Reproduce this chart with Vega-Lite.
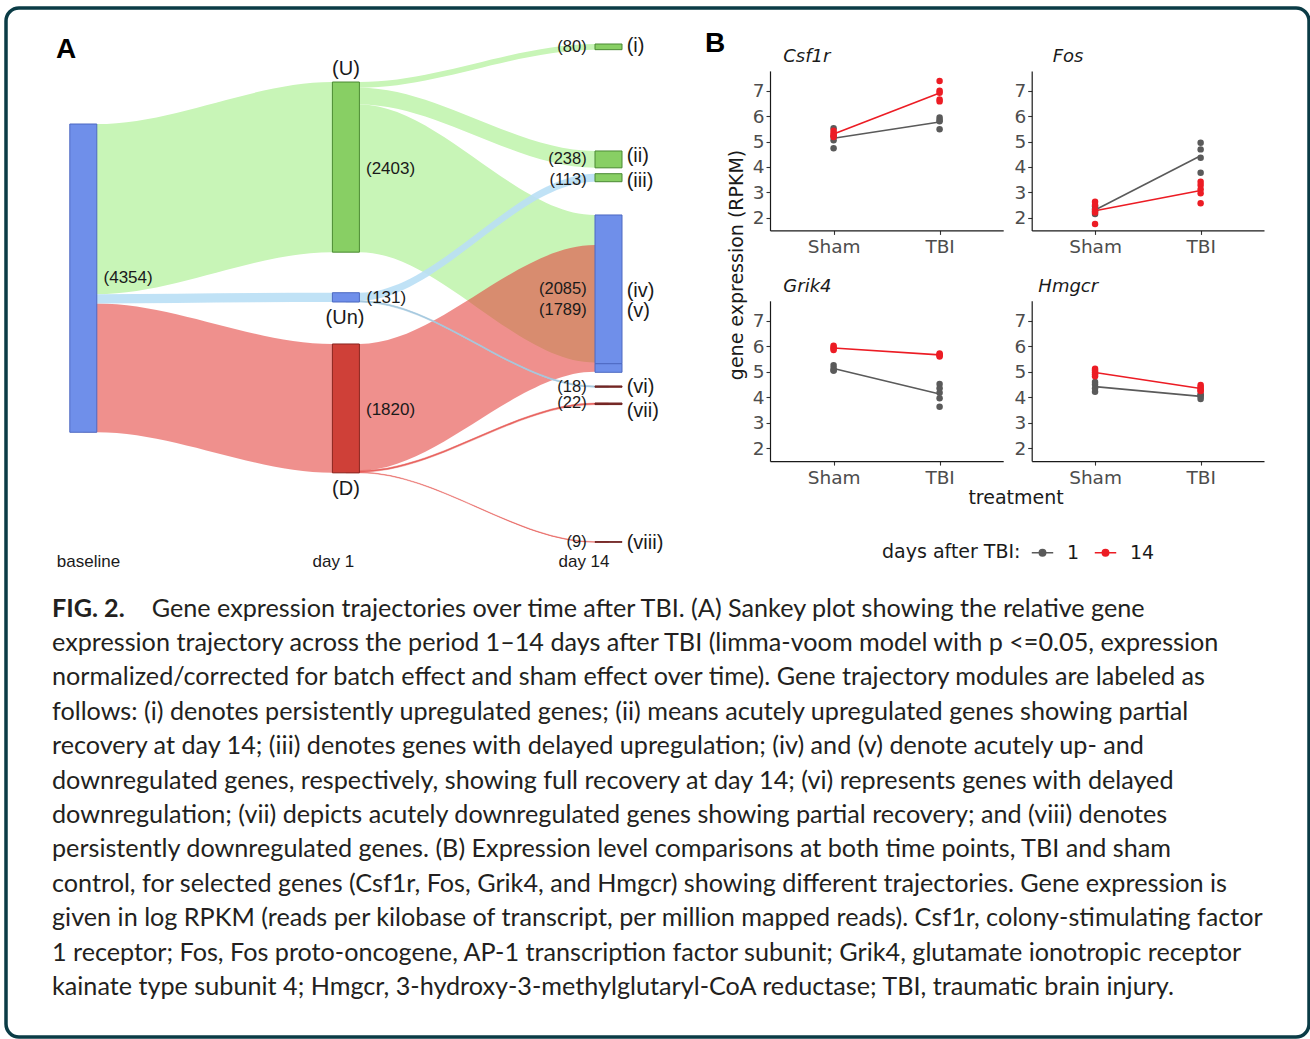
{
"$schema": "https://vega.github.io/schema/vega-lite/v6.json",
"width": 1303,
"height": 1029,
"autosize": "none",
"padding": {"left": 6, "top": 8, "right": 1, "bottom": 2},
"background": "#ffffff",
"view": {"stroke": "#0b3c46", "strokeWidth": 3.5, "cornerRadius": 13, "fill": "#ffffff"},
"config": {
  "font": "Liberation Sans",
  "axis": {"grid": false, "domainColor": "#1a1a1a", "domainWidth": 1.2, "tickColor": "#333333", "tickWidth": 1.1, "tickSize": 4, "labelColor": "#4d4d4d", "labelFont": "DejaVu Sans", "labelFontSize": 18.5, "labelPadding": 2, "labelFlush": false, "labelOverlap": false}
},
"datasets": {
  "links": [
    {"link": "base-U", "group": "up", "n": 2403, "pos": 0, "top": 1469, "bot": 3872},
    {"link": "base-U", "group": "up", "n": 2403, "pos": 0.052, "top": 1469, "bot": 3872},
    {"link": "base-U", "group": "up", "n": 2403, "pos": 0.948, "top": 876, "bot": 3279},
    {"link": "base-U", "group": "up", "n": 2403, "pos": 1, "top": 876, "bot": 3279},
    {"link": "base-Un", "group": "un", "n": 131, "pos": 0, "top": 3872, "bot": 4003},
    {"link": "base-Un", "group": "un", "n": 131, "pos": 0.052, "top": 3872, "bot": 4003},
    {"link": "base-Un", "group": "un", "n": 131, "pos": 0.948, "top": 3852, "bot": 3983},
    {"link": "base-Un", "group": "un", "n": 131, "pos": 1, "top": 3852, "bot": 3983},
    {"link": "base-D", "group": "down", "n": 1820, "pos": 0, "top": 4003, "bot": 5823},
    {"link": "base-D", "group": "down", "n": 1820, "pos": 0.052, "top": 4003, "bot": 5823},
    {"link": "base-D", "group": "down", "n": 1820, "pos": 0.948, "top": 4576, "bot": 6396},
    {"link": "base-D", "group": "down", "n": 1820, "pos": 1, "top": 4576, "bot": 6396},
    {"link": "U-i", "group": "up", "n": 80, "pos": 1, "top": 876, "bot": 956},
    {"link": "U-i", "group": "up", "n": 80, "pos": 1.052, "top": 876, "bot": 956},
    {"link": "U-i", "group": "up", "n": 80, "pos": 1.948, "top": 339, "bot": 419},
    {"link": "U-i", "group": "up", "n": 80, "pos": 2, "top": 339, "bot": 419},
    {"link": "U-ii", "group": "up", "n": 238, "pos": 1, "top": 956, "bot": 1194},
    {"link": "U-ii", "group": "up", "n": 238, "pos": 1.052, "top": 956, "bot": 1194},
    {"link": "U-ii", "group": "up", "n": 238, "pos": 1.948, "top": 1850, "bot": 2088},
    {"link": "U-ii", "group": "up", "n": 238, "pos": 2, "top": 1850, "bot": 2088},
    {"link": "U-iv", "group": "up", "n": 2085, "pos": 1, "top": 1194, "bot": 3279},
    {"link": "U-iv", "group": "up", "n": 2085, "pos": 1.052, "top": 1194, "bot": 3279},
    {"link": "U-iv", "group": "up", "n": 2085, "pos": 1.948, "top": 2754, "bot": 4839},
    {"link": "U-iv", "group": "up", "n": 2085, "pos": 2, "top": 2754, "bot": 4839},
    {"link": "Un-iii", "group": "un", "n": 113, "pos": 1, "top": 3852, "bot": 3965},
    {"link": "Un-iii", "group": "un", "n": 113, "pos": 1.052, "top": 3852, "bot": 3965},
    {"link": "Un-iii", "group": "un", "n": 113, "pos": 1.948, "top": 2171, "bot": 2284},
    {"link": "Un-iii", "group": "un", "n": 113, "pos": 2, "top": 2171, "bot": 2284},
    {"link": "Un-vi", "group": "un", "n": 18, "pos": 1, "top": 3965, "bot": 3983},
    {"link": "Un-vi", "group": "un", "n": 18, "pos": 1.052, "top": 3965, "bot": 3983},
    {"link": "Un-vi", "group": "un", "n": 18, "pos": 1.948, "top": 5169, "bot": 5187},
    {"link": "Un-vi", "group": "un", "n": 18, "pos": 2, "top": 5169, "bot": 5187},
    {"link": "D-v", "group": "down", "n": 1789, "pos": 1, "top": 4576, "bot": 6365},
    {"link": "D-v", "group": "down", "n": 1789, "pos": 1.052, "top": 4576, "bot": 6365},
    {"link": "D-v", "group": "down", "n": 1789, "pos": 1.948, "top": 3178, "bot": 4967},
    {"link": "D-v", "group": "down", "n": 1789, "pos": 2, "top": 3178, "bot": 4967},
    {"link": "D-vii", "group": "down", "n": 22, "pos": 1, "top": 6365, "bot": 6387},
    {"link": "D-vii", "group": "down", "n": 22, "pos": 1.052, "top": 6365, "bot": 6387},
    {"link": "D-vii", "group": "down", "n": 22, "pos": 1.948, "top": 5410, "bot": 5432},
    {"link": "D-vii", "group": "down", "n": 22, "pos": 2, "top": 5410, "bot": 5432},
    {"link": "D-viii", "group": "down", "n": 9, "pos": 1, "top": 6387, "bot": 6396},
    {"link": "D-viii", "group": "down", "n": 9, "pos": 1.052, "top": 6387, "bot": 6396},
    {"link": "D-viii", "group": "down", "n": 9, "pos": 1.948, "top": 7368, "bot": 7377},
    {"link": "D-viii", "group": "down", "n": 9, "pos": 2, "top": 7368, "bot": 7377}
  ],
  "nodes": [
    {"node": "baseline", "stage": 0, "top": 1469, "bot": 5823, "type": "unchanged"},
    {"node": "U", "stage": 1, "top": 876, "bot": 3279, "type": "up"},
    {"node": "Un", "stage": 1, "top": 3852, "bot": 3983, "type": "unchanged"},
    {"node": "D", "stage": 1, "top": 4576, "bot": 6396, "type": "down"},
    {"node": "i", "stage": 2, "top": 339, "bot": 419, "type": "up"},
    {"node": "ii", "stage": 2, "top": 1850, "bot": 2088, "type": "up"},
    {"node": "iii", "stage": 2, "top": 2171, "bot": 2284, "type": "up"},
    {"node": "iv", "stage": 2, "top": 2754, "bot": 4855, "type": "unchanged"},
    {"node": "v", "stage": 2, "top": 4855, "bot": 4976, "type": "unchanged"},
    {"node": "vi", "stage": 2, "top": 5169, "bot": 5187, "type": "late"},
    {"node": "vii", "stage": 2, "top": 5410, "bot": 5432, "type": "late"},
    {"node": "viii", "stage": 2, "top": 7368, "bot": 7377, "type": "late"}
  ],
  "labels": [
    {"text": "A", "pos": -0.104, "g": 541, "kind": "panel"},
    {"text": "B", "pos": 2.3675, "g": 448, "kind": "panel"},
    {"text": "(4354)", "pos": 0.077, "g": 3651, "kind": "count"},
    {"text": "(2403)", "pos": 1.0765, "g": 2105, "kind": "count"},
    {"text": "(131)", "pos": 1.0784, "g": 3927, "kind": "count"},
    {"text": "(1820)", "pos": 1.0765, "g": 5508, "kind": "count"},
    {"text": "(U)", "pos": 1.0, "g": 692, "kind": "node"},
    {"text": "(Un)", "pos": 0.9966, "g": 4202, "kind": "node"},
    {"text": "(D)", "pos": 1.0, "g": 6624, "kind": "node"},
    {"text": "(80)", "pos": 1.917, "g": 388, "kind": "count14"},
    {"text": "(238)", "pos": 1.917, "g": 1970, "kind": "count14"},
    {"text": "(113)", "pos": 1.917, "g": 2253, "kind": "count14"},
    {"text": "(2085)", "pos": 1.917, "g": 3806, "kind": "count14"},
    {"text": "(1789)", "pos": 1.917, "g": 4096, "kind": "count14"},
    {"text": "(18)", "pos": 1.917, "g": 5177, "kind": "count14"},
    {"text": "(22)", "pos": 1.917, "g": 5410, "kind": "count14"},
    {"text": "(9)", "pos": 1.917, "g": 7373, "kind": "count14"},
    {"text": "(i)", "pos": 2.0693, "g": 367, "kind": "roman"},
    {"text": "(ii)", "pos": 2.0693, "g": 1917, "kind": "roman"},
    {"text": "(iii)", "pos": 2.0693, "g": 2281, "kind": "roman"},
    {"text": "(iv)", "pos": 2.0693, "g": 3828, "kind": "roman"},
    {"text": "(v)", "pos": 2.0693, "g": 4110, "kind": "roman"},
    {"text": "(vi)", "pos": 2.0693, "g": 5177, "kind": "roman"},
    {"text": "(vii)", "pos": 2.0693, "g": 5523, "kind": "roman"},
    {"text": "(viii)", "pos": 2.0693, "g": 7387, "kind": "roman"},
    {"text": "baseline", "pos": 0.0198, "g": 7733, "kind": "stage"},
    {"text": "day 1", "pos": 0.952, "g": 7733, "kind": "stage"},
    {"text": "day 14", "pos": 1.9067, "g": 7733, "kind": "stage"},
    {"text": "gene expression (RPKM)", "pos": 2.489, "g": 3460, "kind": "ytitle"},
    {"text": "treatment", "pos": 3.552, "g": 6751, "kind": "xtitle"}
  ],
  "expr": [
    {"gene": "Csf1r", "treatment": "Sham", "day": "1", "expr": 5.52},
    {"gene": "Csf1r", "treatment": "Sham", "day": "1", "expr": 5.2},
    {"gene": "Csf1r", "treatment": "Sham", "day": "1", "expr": 5.05},
    {"gene": "Csf1r", "treatment": "Sham", "day": "1", "expr": 4.73},
    {"gene": "Csf1r", "treatment": "TBI", "day": "1", "expr": 5.95},
    {"gene": "Csf1r", "treatment": "TBI", "day": "1", "expr": 5.85},
    {"gene": "Csf1r", "treatment": "TBI", "day": "1", "expr": 5.8},
    {"gene": "Csf1r", "treatment": "TBI", "day": "1", "expr": 5.48},
    {"gene": "Csf1r", "treatment": "Sham", "day": "14", "expr": 5.42},
    {"gene": "Csf1r", "treatment": "Sham", "day": "14", "expr": 5.33},
    {"gene": "Csf1r", "treatment": "Sham", "day": "14", "expr": 5.25},
    {"gene": "Csf1r", "treatment": "Sham", "day": "14", "expr": 5.18},
    {"gene": "Csf1r", "treatment": "TBI", "day": "14", "expr": 7.38},
    {"gene": "Csf1r", "treatment": "TBI", "day": "14", "expr": 7.0},
    {"gene": "Csf1r", "treatment": "TBI", "day": "14", "expr": 6.92},
    {"gene": "Csf1r", "treatment": "TBI", "day": "14", "expr": 6.65},
    {"gene": "Csf1r", "treatment": "TBI", "day": "14", "expr": 6.58},
    {"gene": "Fos", "treatment": "Sham", "day": "1", "expr": 2.45},
    {"gene": "Fos", "treatment": "Sham", "day": "1", "expr": 2.35},
    {"gene": "Fos", "treatment": "Sham", "day": "1", "expr": 2.25},
    {"gene": "Fos", "treatment": "Sham", "day": "1", "expr": 2.15},
    {"gene": "Fos", "treatment": "TBI", "day": "1", "expr": 4.95},
    {"gene": "Fos", "treatment": "TBI", "day": "1", "expr": 4.69},
    {"gene": "Fos", "treatment": "TBI", "day": "1", "expr": 4.36},
    {"gene": "Fos", "treatment": "TBI", "day": "1", "expr": 3.77},
    {"gene": "Fos", "treatment": "Sham", "day": "14", "expr": 2.63},
    {"gene": "Fos", "treatment": "Sham", "day": "14", "expr": 2.5},
    {"gene": "Fos", "treatment": "Sham", "day": "14", "expr": 2.3},
    {"gene": "Fos", "treatment": "Sham", "day": "14", "expr": 2.2},
    {"gene": "Fos", "treatment": "Sham", "day": "14", "expr": 1.75},
    {"gene": "Fos", "treatment": "TBI", "day": "14", "expr": 3.42},
    {"gene": "Fos", "treatment": "TBI", "day": "14", "expr": 3.29},
    {"gene": "Fos", "treatment": "TBI", "day": "14", "expr": 3.12},
    {"gene": "Fos", "treatment": "TBI", "day": "14", "expr": 2.96},
    {"gene": "Fos", "treatment": "TBI", "day": "14", "expr": 2.57},
    {"gene": "Grik4", "treatment": "Sham", "day": "1", "expr": 5.26},
    {"gene": "Grik4", "treatment": "Sham", "day": "1", "expr": 5.15},
    {"gene": "Grik4", "treatment": "Sham", "day": "1", "expr": 5.05},
    {"gene": "Grik4", "treatment": "Sham", "day": "1", "expr": 5.05},
    {"gene": "Grik4", "treatment": "TBI", "day": "1", "expr": 4.52},
    {"gene": "Grik4", "treatment": "TBI", "day": "1", "expr": 4.35},
    {"gene": "Grik4", "treatment": "TBI", "day": "1", "expr": 4.18},
    {"gene": "Grik4", "treatment": "TBI", "day": "1", "expr": 3.96},
    {"gene": "Grik4", "treatment": "TBI", "day": "1", "expr": 3.63},
    {"gene": "Grik4", "treatment": "Sham", "day": "14", "expr": 6.02},
    {"gene": "Grik4", "treatment": "Sham", "day": "14", "expr": 5.95},
    {"gene": "Grik4", "treatment": "Sham", "day": "14", "expr": 5.9},
    {"gene": "Grik4", "treatment": "Sham", "day": "14", "expr": 5.85},
    {"gene": "Grik4", "treatment": "TBI", "day": "14", "expr": 5.72},
    {"gene": "Grik4", "treatment": "TBI", "day": "14", "expr": 5.68},
    {"gene": "Grik4", "treatment": "TBI", "day": "14", "expr": 5.64},
    {"gene": "Grik4", "treatment": "TBI", "day": "14", "expr": 5.6},
    {"gene": "Hmgcr", "treatment": "Sham", "day": "1", "expr": 4.6},
    {"gene": "Hmgcr", "treatment": "Sham", "day": "1", "expr": 4.5},
    {"gene": "Hmgcr", "treatment": "Sham", "day": "1", "expr": 4.35},
    {"gene": "Hmgcr", "treatment": "Sham", "day": "1", "expr": 4.22},
    {"gene": "Hmgcr", "treatment": "TBI", "day": "1", "expr": 4.12},
    {"gene": "Hmgcr", "treatment": "TBI", "day": "1", "expr": 4.08},
    {"gene": "Hmgcr", "treatment": "TBI", "day": "1", "expr": 4.02},
    {"gene": "Hmgcr", "treatment": "TBI", "day": "1", "expr": 3.93},
    {"gene": "Hmgcr", "treatment": "Sham", "day": "14", "expr": 5.12},
    {"gene": "Hmgcr", "treatment": "Sham", "day": "14", "expr": 5.05},
    {"gene": "Hmgcr", "treatment": "Sham", "day": "14", "expr": 4.98},
    {"gene": "Hmgcr", "treatment": "Sham", "day": "14", "expr": 4.9},
    {"gene": "Hmgcr", "treatment": "Sham", "day": "14", "expr": 4.82},
    {"gene": "Hmgcr", "treatment": "TBI", "day": "14", "expr": 4.48},
    {"gene": "Hmgcr", "treatment": "TBI", "day": "14", "expr": 4.4},
    {"gene": "Hmgcr", "treatment": "TBI", "day": "14", "expr": 4.33},
    {"gene": "Hmgcr", "treatment": "TBI", "day": "14", "expr": 4.27},
    {"gene": "Hmgcr", "treatment": "TBI", "day": "14", "expr": 4.25}
  ],
  "caption": [
    {"line": 1, "part": "head", "text": "FIG. 2."},
    {"line": 1, "part": "body", "text": "Gene expression trajectories over time after TBI. (A) Sankey plot showing the relative gene"},
    {"line": 2, "part": "body", "text": "expression trajectory across the period 1–14 days after TBI (limma-voom model with p <=0.05, expression"},
    {"line": 3, "part": "body", "text": "normalized/corrected for batch effect and sham effect over time). Gene trajectory modules are labeled as"},
    {"line": 4, "part": "body", "text": "follows: (i) denotes persistently upregulated genes; (ii) means acutely upregulated genes showing partial"},
    {"line": 5, "part": "body", "text": "recovery at day 14; (iii) denotes genes with delayed upregulation; (iv) and (v) denote acutely up- and"},
    {"line": 6, "part": "body", "text": "downregulated genes, respectively, showing full recovery at day 14; (vi) represents genes with delayed"},
    {"line": 7, "part": "body", "text": "downregulation; (vii) depicts acutely downregulated genes showing partial recovery; and (viii) denotes"},
    {"line": 8, "part": "body", "text": "persistently downregulated genes. (B) Expression level comparisons at both time points, TBI and sham"},
    {"line": 9, "part": "body", "text": "control, for selected genes (Csf1r, Fos, Grik4, and Hmgcr) showing different trajectories. Gene expression is"},
    {"line": 10, "part": "body", "text": "given in log RPKM (reads per kilobase of transcript, per million mapped reads). Csf1r, colony-stimulating factor"},
    {"line": 11, "part": "body", "text": "1 receptor; Fos, Fos proto-oncogene, AP-1 transcription factor subunit; Grik4, glutamate ionotropic receptor"},
    {"line": 12, "part": "body", "text": "kainate type subunit 4; Hmgcr, 3-hydroxy-3-methylglutaryl-CoA reductase; TBI, traumatic brain injury."}
  ]
},
"layer": [
  {
    "layer": [
      {"data": {"name": "links"}, "transform": [{"filter": "datum.group === 'up'"}],
       "mark": {"type": "area", "interpolate": "monotone", "color": "#c8f5b7", "opacity": 1},
       "encoding": {"x": {"field": "pos", "type": "quantitative", "scale": {"domain": [0, 2], "range": [77.3, 602.5], "nice": false, "zero": false, "padding": 0}, "axis": null},
                    "y": {"field": "top", "type": "quantitative", "scale": {"domain": [0, 8000], "range": [12, 578.4], "nice": false, "zero": false, "padding": 0}, "axis": null},
                    "y2": {"field": "bot"}, "detail": {"field": "link"}}},
      {"data": {"name": "links"}, "transform": [{"filter": "datum.group === 'down'"}],
       "mark": {"type": "area", "interpolate": "monotone", "color": "#e3403a", "opacity": 0.58},
       "encoding": {"x": {"field": "pos", "type": "quantitative"}, "y": {"field": "top", "type": "quantitative"}, "y2": {"field": "bot"}, "detail": {"field": "link"}}},
      {"data": {"name": "links"}, "transform": [{"filter": "datum.group === 'down' && datum.n < 30"}],
       "mark": {"type": "area", "interpolate": "monotone", "color": "#e3403a", "opacity": 0.55, "stroke": "#e3403a", "strokeWidth": 0.6},
       "encoding": {"x": {"field": "pos", "type": "quantitative"}, "y": {"field": "top", "type": "quantitative"}, "y2": {"field": "bot"}, "detail": {"field": "link"}}},
      {"data": {"name": "links"}, "transform": [{"filter": "datum.group === 'un'"}],
       "mark": {"type": "area", "interpolate": "monotone", "color": "#b9dff5", "opacity": 0.9},
       "encoding": {"x": {"field": "pos", "type": "quantitative"}, "y": {"field": "top", "type": "quantitative"}, "y2": {"field": "bot"}, "detail": {"field": "link"}}},
      {"data": {"name": "links"}, "transform": [{"filter": "datum.group === 'un' && datum.n < 30"}],
       "mark": {"type": "area", "interpolate": "monotone", "color": "#a3c6dc", "opacity": 0.9, "stroke": "#a3c6dc", "strokeWidth": 0.6},
       "encoding": {"x": {"field": "pos", "type": "quantitative"}, "y": {"field": "top", "type": "quantitative"}, "y2": {"field": "bot"}, "detail": {"field": "link"}}},
      {"data": {"name": "nodes"},
       "mark": {"type": "bar", "width": 27, "strokeWidth": 1, "opacity": 1},
       "encoding": {"x": {"field": "stage", "type": "quantitative"}, "y": {"field": "top", "type": "quantitative"}, "y2": {"field": "bot"},
                    "color": {"field": "type", "type": "nominal", "scale": {"domain": ["unchanged", "up", "down", "late"], "range": ["#6f8fea", "#88cf64", "#cf4038", "#7d2b29"]}, "legend": null},
                    "stroke": {"field": "type", "type": "nominal", "scale": {"domain": ["unchanged", "up", "down", "late"], "range": ["#4d69c2", "#4b8a33", "#8a2520", "#6e2220"]}, "legend": null}}},
      {"data": {"name": "labels"}, "transform": [{"filter": "datum.kind === 'count'"}],
       "mark": {"type": "text", "font": "Liberation Sans", "fontSize": 17, "align": "left", "baseline": "middle", "color": "#1a1a1a"},
       "encoding": {"x": {"field": "pos", "type": "quantitative"}, "y": {"field": "g", "type": "quantitative"}, "text": {"field": "text"}}},
      {"data": {"name": "labels"}, "transform": [{"filter": "datum.kind === 'count14'"}],
       "mark": {"type": "text", "font": "Liberation Sans", "fontSize": 16.5, "align": "right", "baseline": "middle", "color": "#1a1a1a"},
       "encoding": {"x": {"field": "pos", "type": "quantitative"}, "y": {"field": "g", "type": "quantitative"}, "text": {"field": "text"}}},
      {"data": {"name": "labels"}, "transform": [{"filter": "datum.kind === 'node'"}],
       "mark": {"type": "text", "font": "Liberation Sans", "fontSize": 20, "align": "center", "baseline": "middle", "color": "#1a1a1a"},
       "encoding": {"x": {"field": "pos", "type": "quantitative"}, "y": {"field": "g", "type": "quantitative"}, "text": {"field": "text"}}},
      {"data": {"name": "labels"}, "transform": [{"filter": "datum.kind === 'roman'"}],
       "mark": {"type": "text", "font": "Liberation Sans", "fontSize": 20, "align": "left", "baseline": "middle", "color": "#1a1a1a"},
       "encoding": {"x": {"field": "pos", "type": "quantitative"}, "y": {"field": "g", "type": "quantitative"}, "text": {"field": "text"}}},
      {"data": {"name": "labels"}, "transform": [{"filter": "datum.kind === 'stage'"}],
       "mark": {"type": "text", "font": "Liberation Sans", "fontSize": 17, "align": "center", "baseline": "alphabetic", "color": "#1a1a1a"},
       "encoding": {"x": {"field": "pos", "type": "quantitative"}, "y": {"field": "g", "type": "quantitative"}, "text": {"field": "text"}}},
      {"data": {"name": "labels"}, "transform": [{"filter": "datum.kind === 'panel'"}],
       "mark": {"type": "text", "font": "Liberation Sans", "fontSize": 28, "fontWeight": "bold", "align": "left", "baseline": "alphabetic", "color": "#000000"},
       "encoding": {"x": {"field": "pos", "type": "quantitative"}, "y": {"field": "g", "type": "quantitative"}, "text": {"field": "text"}}},
      {"data": {"name": "labels"}, "transform": [{"filter": "datum.kind === 'ytitle'"}],
       "mark": {"type": "text", "font": "DejaVu Sans", "fontSize": 19, "align": "center", "baseline": "middle", "angle": 270, "color": "#1a1a1a"},
       "encoding": {"x": {"field": "pos", "type": "quantitative"}, "y": {"field": "g", "type": "quantitative"}, "text": {"field": "text"}}},
      {"data": {"name": "labels"}, "transform": [{"filter": "datum.kind === 'xtitle'"}],
       "mark": {"type": "text", "font": "DejaVu Sans", "fontSize": 19, "align": "center", "baseline": "middle", "color": "#1a1a1a"},
       "encoding": {"x": {"field": "pos", "type": "quantitative"}, "y": {"field": "g", "type": "quantitative"}, "text": {"field": "text"}}}
    ]
  },
  {
    "data": {"name": "expr"},
    "transform": [{"filter": "datum.gene === 'Csf1r'"}],
    "layer": [
      {"mark": {"type": "line", "strokeWidth": 1.6},
       "encoding": {
         "x": {"field": "treatment", "type": "nominal", "title": null, "scale": {"type": "point", "domain": ["Sham", "TBI"], "range": [764, 997.2], "padding": 0.6}, "axis": {"orient": "bottom", "offset": -806.6, "title": null, "labelAngle": 0, "labelPadding": 3}},
         "y": {"field": "expr", "aggregate": "mean", "type": "quantitative", "title": null, "scale": {"domain": [1.5, 7.78], "range": [222.4, 62.9], "nice": false, "zero": false}, "axis": {"orient": "left", "offset": -764, "title": null, "values": [2, 3, 4, 5, 6, 7], "format": "d"}},
         "color": {"field": "day", "type": "nominal", "scale": {"domain": ["1", "14"], "range": ["#5a5a5a", "#ec1c24"]},
           "legend": {"orient": "none", "legendX": 876, "legendY": 533, "direction": "horizontal", "title": "days after TBI:", "titleOrient": "left", "titleFont": "DejaVu Sans", "titleFontSize": 19, "titleFontWeight": "normal", "titleColor": "#1a1a1a", "titlePadding": 10, "labelFont": "DejaVu Sans", "labelFontSize": 19, "labelColor": "#1a1a1a", "labelOffset": 13, "columnPadding": 11, "symbolType": "M-1,0L1,0M0.3,0A0.3,0.3,0,1,1,-0.3,0A0.3,0.3,0,1,1,0.3,0", "symbolSize": 460, "symbolStrokeWidth": 1.5, "padding": 0}}}},
      {"mark": {"type": "circle", "size": 42, "opacity": 1},
       "encoding": {"x": {"field": "treatment", "type": "nominal", "title": null}, "y": {"field": "expr", "type": "quantitative", "title": null}, "color": {"field": "day", "type": "nominal"}}},
      {"data": {"values": [{"gene": "Csf1r"}]},
       "mark": {"type": "text", "font": "DejaVu Sans", "fontStyle": "italic", "fontSize": 18, "align": "left", "baseline": "alphabetic", "dx": -50.3, "color": "#1a1a1a"},
       "encoding": {"x": {"datum": "Sham", "type": "nominal", "title": null}, "y": {"datum": 8.14, "type": "quantitative", "title": null}, "text": {"field": "gene"}}}
    ]
  },
  {
    "data": {"name": "expr"},
    "transform": [{"filter": "datum.gene === 'Fos'"}],
    "layer": [
      {"mark": {"type": "line", "strokeWidth": 1.6},
       "encoding": {
         "x": {"field": "treatment", "type": "nominal", "title": null, "scale": {"type": "point", "domain": ["Sham", "TBI"], "range": [1025.7, 1258], "padding": 0.6}, "axis": {"orient": "bottom", "offset": -806.6, "title": null, "labelAngle": 0, "labelPadding": 3}},
         "y": {"field": "expr", "aggregate": "mean", "type": "quantitative", "title": null, "scale": {"domain": [1.5, 7.78], "range": [222.4, 62.9], "nice": false, "zero": false}, "axis": {"orient": "left", "offset": -1025.7, "title": null, "values": [2, 3, 4, 5, 6, 7], "format": "d"}},
         "color": {"field": "day", "type": "nominal", "scale": {"domain": ["1", "14"], "range": ["#5a5a5a", "#ec1c24"]}, "legend": null}}},
      {"mark": {"type": "circle", "size": 42, "opacity": 1},
       "encoding": {"x": {"field": "treatment", "type": "nominal", "title": null}, "y": {"field": "expr", "type": "quantitative", "title": null}, "color": {"field": "day", "type": "nominal", "legend": null}}},
      {"data": {"values": [{"gene": "Fos"}]},
       "mark": {"type": "text", "font": "DejaVu Sans", "fontStyle": "italic", "fontSize": 18, "align": "left", "baseline": "alphabetic", "dx": -42.3, "color": "#1a1a1a"},
       "encoding": {"x": {"datum": "Sham", "type": "nominal", "title": null}, "y": {"datum": 8.14, "type": "quantitative", "title": null}, "text": {"field": "gene"}}}
    ]
  },
  {
    "data": {"name": "expr"},
    "transform": [{"filter": "datum.gene === 'Grik4'"}],
    "layer": [
      {"mark": {"type": "line", "strokeWidth": 1.6},
       "encoding": {
         "x": {"field": "treatment", "type": "nominal", "title": null, "scale": {"type": "point", "domain": ["Sham", "TBI"], "range": [764, 997.2], "padding": 0.6}, "axis": {"orient": "bottom", "offset": -575.9, "title": null, "labelAngle": 0, "labelPadding": 3}},
         "y": {"field": "expr", "aggregate": "mean", "type": "quantitative", "title": null, "scale": {"domain": [1.5, 7.78], "range": [453.1, 292.8], "nice": false, "zero": false}, "axis": {"orient": "left", "offset": -764, "title": null, "values": [2, 3, 4, 5, 6, 7], "format": "d"}},
         "color": {"field": "day", "type": "nominal", "scale": {"domain": ["1", "14"], "range": ["#5a5a5a", "#ec1c24"]}, "legend": null}}},
      {"mark": {"type": "circle", "size": 42, "opacity": 1},
       "encoding": {"x": {"field": "treatment", "type": "nominal", "title": null}, "y": {"field": "expr", "type": "quantitative", "title": null}, "color": {"field": "day", "type": "nominal", "legend": null}}},
      {"data": {"values": [{"gene": "Grik4"}]},
       "mark": {"type": "text", "font": "DejaVu Sans", "fontStyle": "italic", "fontSize": 18, "align": "left", "baseline": "alphabetic", "dx": -50.3, "color": "#1a1a1a"},
       "encoding": {"x": {"datum": "Sham", "type": "nominal", "title": null}, "y": {"datum": 8.11, "type": "quantitative", "title": null}, "text": {"field": "gene"}}}
    ]
  },
  {
    "data": {"name": "expr"},
    "transform": [{"filter": "datum.gene === 'Hmgcr'"}],
    "layer": [
      {"mark": {"type": "line", "strokeWidth": 1.6},
       "encoding": {
         "x": {"field": "treatment", "type": "nominal", "title": null, "scale": {"type": "point", "domain": ["Sham", "TBI"], "range": [1025.7, 1258], "padding": 0.6}, "axis": {"orient": "bottom", "offset": -575.9, "title": null, "labelAngle": 0, "labelPadding": 3}},
         "y": {"field": "expr", "aggregate": "mean", "type": "quantitative", "title": null, "scale": {"domain": [1.5, 7.78], "range": [453.1, 292.8], "nice": false, "zero": false}, "axis": {"orient": "left", "offset": -1025.7, "title": null, "values": [2, 3, 4, 5, 6, 7], "format": "d"}},
         "color": {"field": "day", "type": "nominal", "scale": {"domain": ["1", "14"], "range": ["#5a5a5a", "#ec1c24"]}, "legend": null}}},
      {"mark": {"type": "circle", "size": 42, "opacity": 1},
       "encoding": {"x": {"field": "treatment", "type": "nominal", "title": null}, "y": {"field": "expr", "type": "quantitative", "title": null}, "color": {"field": "day", "type": "nominal", "legend": null}}},
      {"data": {"values": [{"gene": "Hmgcr"}]},
       "mark": {"type": "text", "font": "DejaVu Sans", "fontStyle": "italic", "fontSize": 18, "align": "left", "baseline": "alphabetic", "dx": -56.7, "color": "#1a1a1a"},
       "encoding": {"x": {"datum": "Sham", "type": "nominal", "title": null}, "y": {"datum": 8.14, "type": "quantitative", "title": null}, "text": {"field": "gene"}}}
    ]
  },
  {
    "data": {"name": "caption"},
    "layer": [
      {"transform": [{"filter": "datum.part === 'body' && datum.line > 1"}],
       "mark": {"type": "text", "font": "Lato", "fontSize": 25.2, "align": "left", "baseline": "alphabetic", "color": "#231f20"},
       "encoding": {"x": {"datum": 0, "type": "quantitative", "scale": {"domain": [0, 1], "range": [46, 1296]}, "axis": null},
                    "y": {"field": "line", "type": "quantitative", "scale": {"domain": [1, 12], "range": [608.7, 987]}, "axis": null},
                    "text": {"field": "text"}}},
      {"transform": [{"filter": "datum.part === 'body' && datum.line === 1"}],
       "mark": {"type": "text", "font": "Lato", "fontSize": 25.2, "align": "left", "baseline": "alphabetic", "dx": 99.7, "color": "#231f20"},
       "encoding": {"x": {"datum": 0, "type": "quantitative"}, "y": {"field": "line", "type": "quantitative"}, "text": {"field": "text"}}},
      {"transform": [{"filter": "datum.part === 'head'"}],
       "mark": {"type": "text", "font": "Lato", "fontSize": 25.2, "fontWeight": "bold", "align": "left", "baseline": "alphabetic", "color": "#231f20"},
       "encoding": {"x": {"datum": 0, "type": "quantitative"}, "y": {"field": "line", "type": "quantitative"}, "text": {"field": "text"}}}
    ]
  }
],
"resolve": {
  "scale": {"x": "independent", "y": "independent", "color": "independent", "stroke": "independent"},
  "axis": {"x": "independent", "y": "independent"},
  "legend": {"color": "independent"}
}
}
